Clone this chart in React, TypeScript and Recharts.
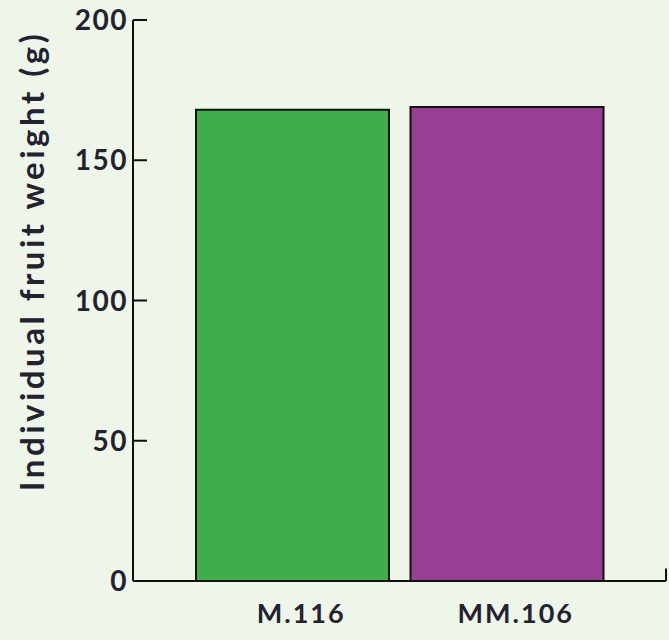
import React from 'react';
import { BarChart, Bar, XAxis, YAxis, Cell, ReferenceLine } from 'recharts';

const rootstocks = ['M.116', 'MM.106'];
const fruitWeight = [168, 169];
const barColors = ['#3dae4a', '#963f93'];
const yTicks = [0, 50, 100, 150, 200];

const BG = '#eef5e9';
const INK = '#222230';
const FONT = 'Lato, "Open Sans", sans-serif';

const data = rootstocks.map((name, i) => ({ name, weight: fruitWeight[i] }));

// y tick: number to the left, short tick mark pointing into the plot
function YTick(props: any) {
  const { x, y, payload } = props;
  return (
    <g>
      <line x1={x + 8} x2={x + 22} y1={y} y2={y} stroke="#111" strokeWidth={2} />
      <text x={x + 3} y={y} dy={10} textAnchor="end" fontFamily={FONT} fontWeight={700} fontSize={28} letterSpacing={1.5} fill={INK}>
        {payload.value}
      </text>
    </g>
  );
}

function XTick(props: any) {
  const { x, y, payload } = props;
  return (
    <text x={x + 9} y={y + 34} textAnchor="middle" fontFamily={FONT} fontWeight={700} fontSize={27} letterSpacing={2} fill={INK}>
      {payload.value}
    </text>
  );
}

function YLabel(props: any) {
  const { viewBox } = props;
  const cx = viewBox.x + 31;
  const cy = viewBox.y + 241;
  return (
    <text
      x={cx}
      y={cy}
      transform={`rotate(-90, ${cx}, ${cy})`}
      textAnchor="middle"
      dominantBaseline="central"
      fontFamily={FONT}
      fontWeight={700}
      fontSize={33}
      letterSpacing={3.5}
      fill={INK}
    >
      Individual fruit weight (g)
    </text>
  );
}

export default function App() {
  return (
    <div style={{ position: 'absolute', left: 0, top: 0, width: 669, height: 640, background: BG }}>
      <BarChart
        width={669}
        height={640}
        data={data}
        margin={{ top: 20, right: 3, bottom: 0, left: 0 }}
        barCategoryGap={11}
      >
        <XAxis
          dataKey="name"
          height={59}
          padding={{ left: 52, right: 52 }}
          tickLine={false}
          axisLine={{ stroke: '#111', strokeWidth: 2 }}
          tick={<XTick />}
          interval={0}
        />
        <XAxis xAxisId="edge" type="number" domain={[0, 1]} hide />
        <YAxis
          width={133}
          domain={[0, 200]}
          ticks={yTicks}
          tickSize={0}
          tickMargin={8}
          tickLine={false}
          axisLine={{ stroke: '#111', strokeWidth: 2 }}
          tick={<YTick />}
          interval={0}
          label={<YLabel />}
        />
        <ReferenceLine
          xAxisId="edge"
          segment={[{ x: 1, y: 0 }, { x: 1, y: 4.5 }]}
          stroke="#111"
          strokeWidth={2}
          ifOverflow="visible"
        />
        <Bar dataKey="weight" stroke="#111" strokeWidth={2} isAnimationActive={false}>
          {data.map((d, i) => (
            <Cell key={d.name} fill={barColors[i]} />
          ))}
        </Bar>
      </BarChart>
    </div>
  );
}
